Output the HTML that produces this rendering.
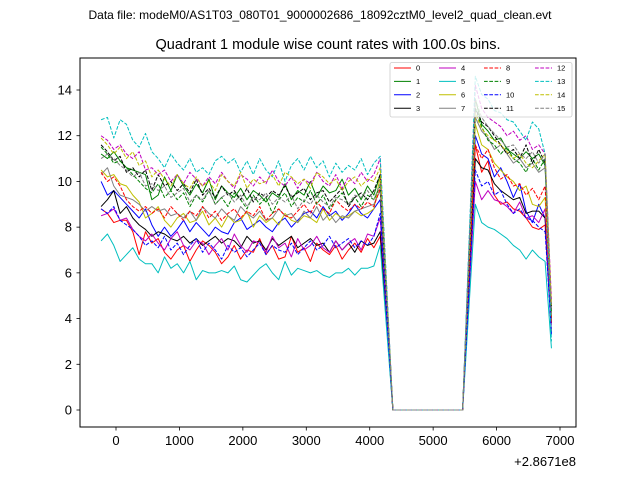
<!DOCTYPE html>
<html><head><meta charset="utf-8"><style>
body{margin:0;background:#fff}
svg{display:block;font-family:"Liberation Sans","DejaVu Sans",sans-serif}
</style></head><body>
<svg id="chart" width="640" height="480" viewBox="0 0 640 480">
<rect width="640" height="480" fill="#fff"/>
<text x="320" y="19" font-size="12" text-anchor="middle">Data file: modeM0/AS1T03_080T01_9000002686_18092cztM0_level2_quad_clean.evt</text>
<text x="328" y="49" font-size="14.5" text-anchor="middle">Quadrant 1 module wise count rates with 100.0s bins.</text>
<g id="series"></g>
<rect x="80" y="58" width="496" height="369" fill="none" stroke="#000" stroke-width="1"/>
<g id="xaxis"></g>
<g id="yaxis"></g>
<text x="576" y="466" font-size="13" text-anchor="end">+2.8671e8</text>
<g id="legend"></g>
</svg>
<script>
const xTicks=[0,1000,2000,3000,4000,5000,6000,7000];
const yTicks=[0,2,4,6,8,10,12,14];
const t0=-235, binSize=100;
const names=["0","1","2","3","4","5","6","7","8","9","10","11","12","13","14","15"];
const colors=["#ff0000","#008000","#0000ff","#000000","#bf00bf","#00bfbf","#bfbf00","#808080","#ff0000","#008000","#0000ff","#000000","#bf00bf","#00bfbf","#bfbf00","#808080"];
const Z=[0,0,0,0,0,0,0,0,0,0,0,0];
const s0=[8.8,8.6,8.2,8.3,8.3,7.8,6.8,7.8,7.3,7.5,6.9,6.6,7.0,7.2,6.5,7.0,7.4,7.2,6.9,6.4,6.7,7.2,6.6,7.0,6.9,7.5,6.8,7.2,6.6,6.7,7.6,6.9,7.1,6.5,7.3,7.0,6.8,7.2,6.6,7.0,7.3,6.9,7.5,7.1,7.6,4.0,...Z,6.0,11.6,10.4,10.9,9.4,9.0,9.1,8.8,8.7,8.4,8.0,7.9,8.1,3.4];
const s1=[11.2,11.0,11.3,10.9,10.6,10.5,10.4,10.3,9.2,9.4,10.2,9.6,10.3,9.8,9.4,9.9,9.5,10.1,9.2,9.8,9.5,9.3,9.7,9.2,9.6,9.4,9.1,9.5,9.3,9.9,9.2,9.6,9.4,10.0,9.3,9.8,9.5,9.6,10.1,9.4,9.7,9.2,9.8,9.4,10.3,5.0,...Z,7.0,13.6,12.5,12.2,11.8,11.9,11.4,11.2,11.0,11.3,11.0,11.2,10.7,4.0];
const s2=[10.0,9.4,9.6,9.3,9.0,8.7,8.4,8.8,8.1,7.6,8.0,7.6,7.9,8.3,7.8,8.2,7.9,7.6,8.0,7.8,7.7,8.2,8.4,7.9,8.1,8.3,8.0,7.8,8.2,8.4,8.0,8.3,8.6,8.7,8.4,8.9,8.5,8.7,8.3,8.6,9.0,8.6,8.4,8.8,9.2,4.5,...Z,6.0,12.0,11.2,11.0,10.2,10.6,10.0,9.3,9.9,8.7,8.2,9.0,8.4,3.3];
const s3=[8.9,9.2,9.6,8.6,8.9,8.4,8.1,7.9,7.6,7.8,7.7,7.5,7.4,7.6,7.3,7.5,7.2,7.4,7.6,7.3,7.5,7.4,7.1,7.6,7.3,7.4,7.0,7.5,7.2,7.4,7.6,7.1,7.3,7.5,7.2,7.3,6.9,7.4,7.0,7.3,6.9,7.4,7.2,7.3,7.8,3.9,...Z,5.5,11.0,10.6,10.5,9.9,9.6,9.4,9.2,9.3,8.6,8.7,8.7,8.4,3.8];
const s4=[8.5,8.6,8.8,8.3,8.4,7.9,7.6,7.4,7.7,7.3,7.0,7.5,7.8,7.2,7.0,7.4,7.3,6.8,7.2,7.5,7.0,7.7,7.2,6.9,7.4,7.3,6.9,7.6,7.1,7.3,6.7,7.5,7.0,7.2,7.6,7.1,6.9,7.4,7.0,7.3,7.5,7.0,7.7,7.6,8.4,4.2,...Z,5.0,10.0,9.2,9.6,9.2,9.1,8.9,8.6,9.1,8.4,8.5,8.2,8.8,3.7];
const s5=[7.4,7.7,7.2,6.5,6.8,7.1,6.6,6.4,6.4,6.0,6.7,6.2,6.4,6.0,6.5,5.7,6.1,6.0,6.0,6.1,6.0,6.3,5.7,5.6,5.9,6.2,6.4,6.0,5.7,6.5,5.9,6.2,6.1,6.0,6.1,5.9,5.8,6.0,6.0,6.2,5.9,6.2,6.2,6.3,7.2,3.6,...Z,4.5,9.0,8.2,8.0,7.9,7.7,7.5,7.2,7.0,6.6,7.0,6.7,6.5,2.7];
const s6=[10.5,10.2,10.3,9.9,9.8,9.4,9.1,8.4,8.6,8.9,8.3,8.0,8.4,8.6,8.2,8.3,8.7,8.1,8.4,8.0,8.5,8.2,8.3,8.7,8.0,8.5,8.2,8.4,8.1,8.6,8.3,8.2,8.5,8.4,8.2,8.8,8.3,8.6,8.4,8.5,8.7,8.5,8.6,8.8,10.2,5.1,...Z,6.3,12.5,11.6,11.4,10.8,10.5,10.2,10.0,9.6,9.8,9.0,8.9,9.3,4.2];
const s7=[10.3,10.6,9.8,9.4,9.3,9.2,9.0,8.7,8.9,8.7,8.8,8.5,8.6,8.4,8.7,8.3,8.9,8.6,8.4,8.8,8.5,8.3,8.9,8.6,8.4,8.7,8.3,8.4,8.8,8.5,8.6,8.2,8.7,8.4,8.9,8.3,8.6,8.2,8.5,8.4,8.7,8.8,8.9,9.0,9.6,4.8,...Z,6.4,12.8,12.2,11.9,11.4,11.6,11.2,10.8,11.0,10.6,10.8,10.4,10.6,4.5];
const s8=[10.4,10.0,10.2,9.8,9.2,8.9,8.7,8.9,8.6,8.8,8.4,8.9,8.6,8.3,8.7,8.5,8.9,8.4,8.7,8.3,8.6,8.8,8.4,8.7,8.5,8.9,8.3,8.6,8.8,8.5,8.4,8.7,9.0,8.6,9.1,8.8,8.6,9.2,8.9,8.7,9.0,8.8,9.1,8.9,9.7,4.9,...Z,5.8,11.6,11.0,11.4,10.6,10.1,10.3,9.8,9.9,9.4,9.7,9.2,9.8,3.8];
const s9=[11.5,11.2,10.8,10.9,10.6,10.3,10.0,9.7,9.5,9.9,9.3,9.6,9.2,9.5,8.9,9.4,9.1,9.6,9.0,9.3,8.9,9.5,9.2,8.8,9.4,9.0,9.3,8.6,9.2,9.5,8.9,9.3,9.1,9.6,9.0,9.4,8.8,9.2,9.5,9.0,9.3,8.9,9.4,9.2,9.8,4.9,...Z,6.6,13.2,12.4,11.8,11.6,11.2,11.5,11.0,10.8,10.4,11.0,10.5,11.0,4.2];
const s10=[8.8,8.6,8.9,8.3,8.1,7.9,7.6,7.2,7.4,7.1,7.6,7.0,7.3,6.8,7.2,7.5,6.9,7.3,7.0,6.6,7.2,6.9,7.1,6.7,7.0,7.3,6.8,7.2,7.0,6.9,7.3,6.8,7.1,7.4,7.0,7.2,7.6,7.1,7.3,7.5,7.1,7.4,7.2,7.6,8.6,4.3,...Z,5.3,10.5,9.8,10.0,9.4,9.6,9.0,8.6,8.8,8.4,8.3,8.0,7.8,3.4];
const s11=[11.6,11.3,10.9,11.1,10.4,10.6,10.2,10.5,9.6,10.3,9.8,10.0,9.6,9.9,9.5,10.1,9.4,9.7,9.3,9.8,9.4,9.6,9.2,9.7,9.1,9.5,9.3,9.6,9.4,9.8,9.3,9.5,9.7,9.2,9.5,9.6,9.1,9.4,9.7,8.9,9.3,9.5,9.2,9.6,10.3,5.2,...Z,6.6,13.2,12.6,12.4,12.0,11.6,11.2,11.4,11.0,11.6,10.8,11.4,10.8,4.4];
const s12=[12.0,11.8,11.4,11.6,11.2,11.0,11.3,10.5,10.6,10.3,10.5,10.0,10.3,9.9,10.4,10.1,9.8,10.2,9.9,10.4,10.0,9.7,10.3,10.1,9.8,10.2,9.9,10.5,10.0,9.8,10.2,9.7,10.1,9.9,10.4,10.0,9.8,10.3,9.7,10.2,9.9,10.4,10.0,10.3,11.0,5.5,...Z,7.1,14.2,13.2,12.8,12.6,12.4,12.0,12.2,11.8,12.0,11.4,11.6,11.2,4.8];
const s13=[12.7,12.8,11.9,12.7,12.5,11.8,11.5,12.1,11.3,11.0,10.6,11.2,10.8,10.5,11.0,10.4,10.6,10.3,10.9,11.1,10.8,11.0,10.4,10.9,10.3,11.0,10.5,10.2,10.9,10.0,10.7,11.0,10.5,11.1,10.6,10.9,10.2,10.8,10.4,10.7,10.5,11.0,10.3,10.8,11.1,5.6,...Z,7.3,14.6,13.8,13.6,13.1,13.0,12.7,12.6,12.2,11.8,12.6,12.3,11.2,3.0];
const s14=[11.9,11.6,11.2,11.5,11.0,11.3,10.7,10.9,10.2,10.5,10.1,9.8,10.3,9.9,9.7,10.2,9.8,10.0,9.6,10.3,10.0,9.8,10.4,9.7,10.1,9.9,10.0,10.3,9.8,10.4,10.2,9.9,10.1,9.7,10.4,10.2,9.9,10.1,9.6,10.0,10.2,9.8,10.1,10.0,10.6,5.3,...Z,6.5,13.0,12.3,12.0,11.8,11.6,11.3,11.0,11.2,10.8,10.6,10.9,11.2,4.6];
const s15=[11.0,11.2,11.0,10.7,10.5,10.2,10.4,9.8,9.9,9.6,9.8,9.3,9.5,9.7,9.1,9.4,9.2,9.6,9.0,9.3,9.5,9.1,9.4,8.9,9.3,9.2,9.5,9.0,9.3,9.1,9.4,8.8,9.2,9.0,9.4,9.1,8.9,9.3,9.2,9.0,9.4,9.3,9.6,9.2,9.9,5.0,...Z,6.8,13.6,12.8,12.4,12.1,11.8,11.5,11.6,11.2,11.0,11.3,10.8,11.2,4.1];
const allSeries=[s0,s1,s2,s3,s4,s5,s6,s7,s8,s9,s10,s11,s12,s13,s14,s15];

const NS="http://www.w3.org/2000/svg";
const X0=116, XS=0.063429, Y0=410, YS=22.857;
function xs(t){return X0+t*XS;}
function ys(v){return Y0-v*YS;}
function mk(tag,attrs,parent){const e=document.createElementNS(NS,tag);for(const k in attrs)e.setAttribute(k,attrs[k]);parent.appendChild(e);return e;}

const gs=document.getElementById('series');
allSeries.forEach((arr,si)=>{
  const d=arr.map((v,i)=>(i?'L':'M')+xs(t0+binSize*i).toFixed(2)+' '+ys(v).toFixed(2)).join(' ');
  const p=mk('path',{d:d,fill:'none',stroke:colors[si],'stroke-width':1,'stroke-linejoin':'round'},gs);
  if(si>=8)p.setAttribute('stroke-dasharray','3.7 1.6');
  
  
});

const gx=document.getElementById('xaxis');
xTicks.forEach(t=>{
  const x=xs(t);
  const l=mk('line',{x1:x,x2:x,y1:427,y2:430.5,stroke:'#000','stroke-width':0.8},gx);
  
  
  const tx=mk('text',{x:x,y:445,'font-size':13,'text-anchor':'middle'},gx);
  tx.textContent=String(t);
  
  
});
const gy=document.getElementById('yaxis');
yTicks.forEach(v=>{
  const y=ys(v);
  const l=mk('line',{x1:76.5,x2:80,y1:y,y2:y,stroke:'#000','stroke-width':0.8},gy);
  
  
  const tx=mk('text',{x:72,y:y+4.5,'font-size':13,'text-anchor':'end'},gy);
  tx.textContent=String(v);
  
  
});

const gl=document.getElementById('legend');
const lb=mk('rect',{x:390,y:62.5,width:182,height:54.5,rx:2,fill:'#fff','fill-opacity':0.8,stroke:'#ccc','stroke-width':0.8},gl);


const colX=[394,439,484,535];
names.forEach((n,i)=>{
  const c=Math.floor(i/4), r=i%4;
  const x=colX[c], y=68+r*13.4;
  const g=mk('g',{},gl);
  
  
  const l=mk('line',{x1:x,x2:x+17,y1:y,y2:y,stroke:colors[i],'stroke-width':1},g);
  if(i>=8)l.setAttribute('stroke-dasharray','3.7 1.6');
  const tx=mk('text',{x:x+22,y:y+2.6,'font-size':7.5},g);
  tx.textContent=n;
});
</script>
</body></html>
